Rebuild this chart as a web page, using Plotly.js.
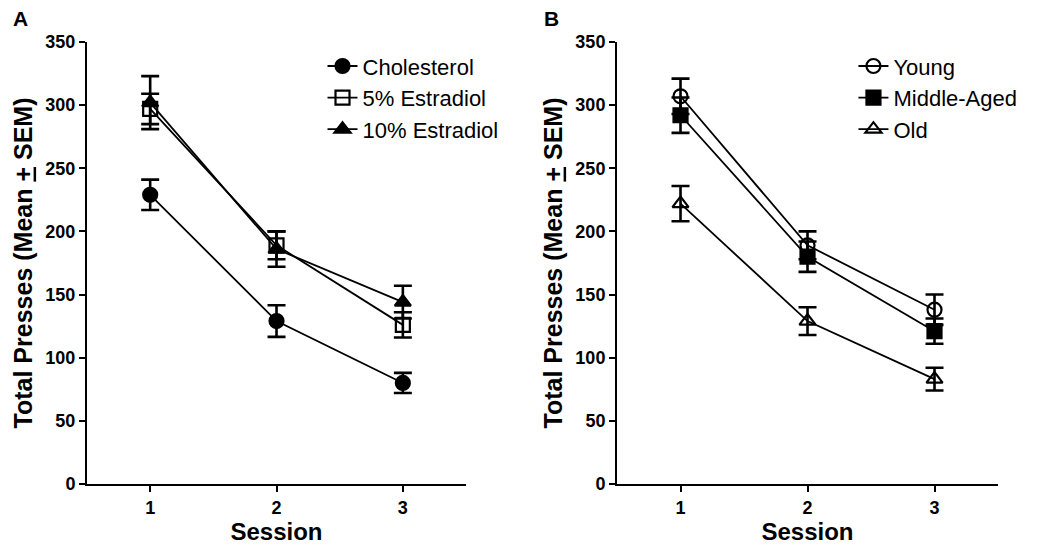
<!DOCTYPE html>
<html>
<head>
<meta charset="utf-8">
<script src="https://cdn.plot.ly/plotly-3.0.1.min.js"></script>
<style>html,body{margin:0;padding:0;background:#fff;}#chart{width:1037px;height:551px;}</style>
</head>
<body>
<div id="chart"></div>
<script>
// ---- Data ----
var sessions = [1, 2, 3];
var sessionTicks = ['1', '2', '3'];

// Panel A
var cholesterol = [229, 129, 80];
var cholesterolErr = [12, 12.5, 8];
var estradiol5 = [297, 189, 126];
var estradiol5Err = [12, 11, 10];
var estradiol10 = [302, 186, 144];
var estradiol10Err = [21, 14, 13];

// Panel B
var young = [307, 189, 138];
var youngErr = [14, 11, 12];
var middleAged = [292, 180, 121];
var middleAgedErr = [14, 12, 10];
var old = [222, 129, 83];
var oldErr = [14, 11, 9];

var yTicks = [0, 50, 100, 150, 200, 250, 300, 350];

// ---- Styling ----
var FONT = 'Liberation Sans, Arial, sans-serif';
function tr(name, y, err, symbol, xa, ya, leg, rank) {
  return {
    type: 'scatter', mode: 'lines+markers', name: name,
    x: sessions, y: y, xaxis: xa, yaxis: ya, legend: leg, legendrank: rank,
    line: {color: '#000', width: 1.8},
    marker: {symbol: symbol, size: 14, color: '#000', line: {color: '#000', width: 2.2}},
    error_y: {type: 'data', array: err, visible: true, color: '#000', thickness: 2.6, width: 9}
  };
}

var data = [
  tr('Cholesterol', cholesterol, cholesterolErr, 'circle', 'x', 'y', 'legend', 1),
  tr('10% Estradiol', estradiol10, estradiol10Err, 'triangle-up', 'x', 'y', 'legend', 3),
  tr('5% Estradiol', estradiol5, estradiol5Err, 'square-open', 'x', 'y', 'legend', 2),
  tr('Old', old, oldErr, 'triangle-up-open', 'x2', 'y2', 'legend2', 3),
  tr('Middle-Aged', middleAged, middleAgedErr, 'square', 'x2', 'y2', 'legend2', 2),
  tr('Young', young, youngErr, 'circle-open', 'x2', 'y2', 'legend2', 1)
];

function xAxis(domain, anchor) {
  return {
    domain: domain, anchor: anchor, range: [0.5, 3.5],
    tickmode: 'array', tickvals: sessions, ticktext: sessionTicks,
    showline: true, linecolor: '#000', linewidth: 2,
    ticks: 'outside', ticklen: 6, tickwidth: 2, tickcolor: '#000',
    showgrid: false, zeroline: false,
    tickfont: {family: FONT, size: 18, color: '#000', weight: 'bold'},
    title: {text: '<b>Session</b>', font: {family: FONT, size: 24, color: '#000'}, standoff: 6}
  };
}
function yAxis(anchor) {
  return {
    domain: [0.1216, 0.9238], anchor: anchor, range: [0, 350],
    tickmode: 'array', tickvals: yTicks,
    showline: true, linecolor: '#000', linewidth: 2,
    ticks: 'outside', ticklen: 6, tickwidth: 2, tickcolor: '#000',
    showgrid: false, zeroline: false,
    tickfont: {family: FONT, size: 18, color: '#000', weight: 'bold'},
    title: {text: '<b>Total Presses (Mean <u>+</u> SEM)</b>', font: {family: FONT, size: 25, color: '#000'}, standoff: 6}
  };
}

var layout = {
  width: 1037, height: 551,
  margin: {l: 0, r: 0, t: 0, b: 0},
  paper_bgcolor: '#fff', plot_bgcolor: '#fff',
  showlegend: true,
  xaxis: xAxis([0.0839, 0.4494], 'y'),
  yaxis: yAxis('x'),
  xaxis2: xAxis([0.5950, 0.9624], 'y2'),
  yaxis2: yAxis('x2'),
  legend: {x: 0.311, y: 0.918, xanchor: 'left', yanchor: 'top', bgcolor: 'rgba(0,0,0,0)',
           font: {family: FONT, size: 22, color: '#000'}, traceorder: 'normal', tracegroupgap: 0},
  legend2: {x: 0.823, y: 0.918, xanchor: 'left', yanchor: 'top', bgcolor: 'rgba(0,0,0,0)',
           font: {family: FONT, size: 22, color: '#000'}, traceorder: 'normal', tracegroupgap: 0},
  annotations: [
    {text: '<b>A</b>', x: 11 / 1037, y: 1 - 19 / 551, xref: 'paper', yref: 'paper', showarrow: false,
     xanchor: 'left', yanchor: 'middle', font: {family: FONT, size: 21, color: '#000'}},
    {text: '<b>B</b>', x: 542 / 1037, y: 1 - 19 / 551, xref: 'paper', yref: 'paper', showarrow: false,
     xanchor: 'left', yanchor: 'middle', font: {family: FONT, size: 21, color: '#000'}}
  ]
};

Plotly.newPlot('chart', data, layout, {staticPlot: true, displayModeBar: false});
</script>
</body>
</html>
